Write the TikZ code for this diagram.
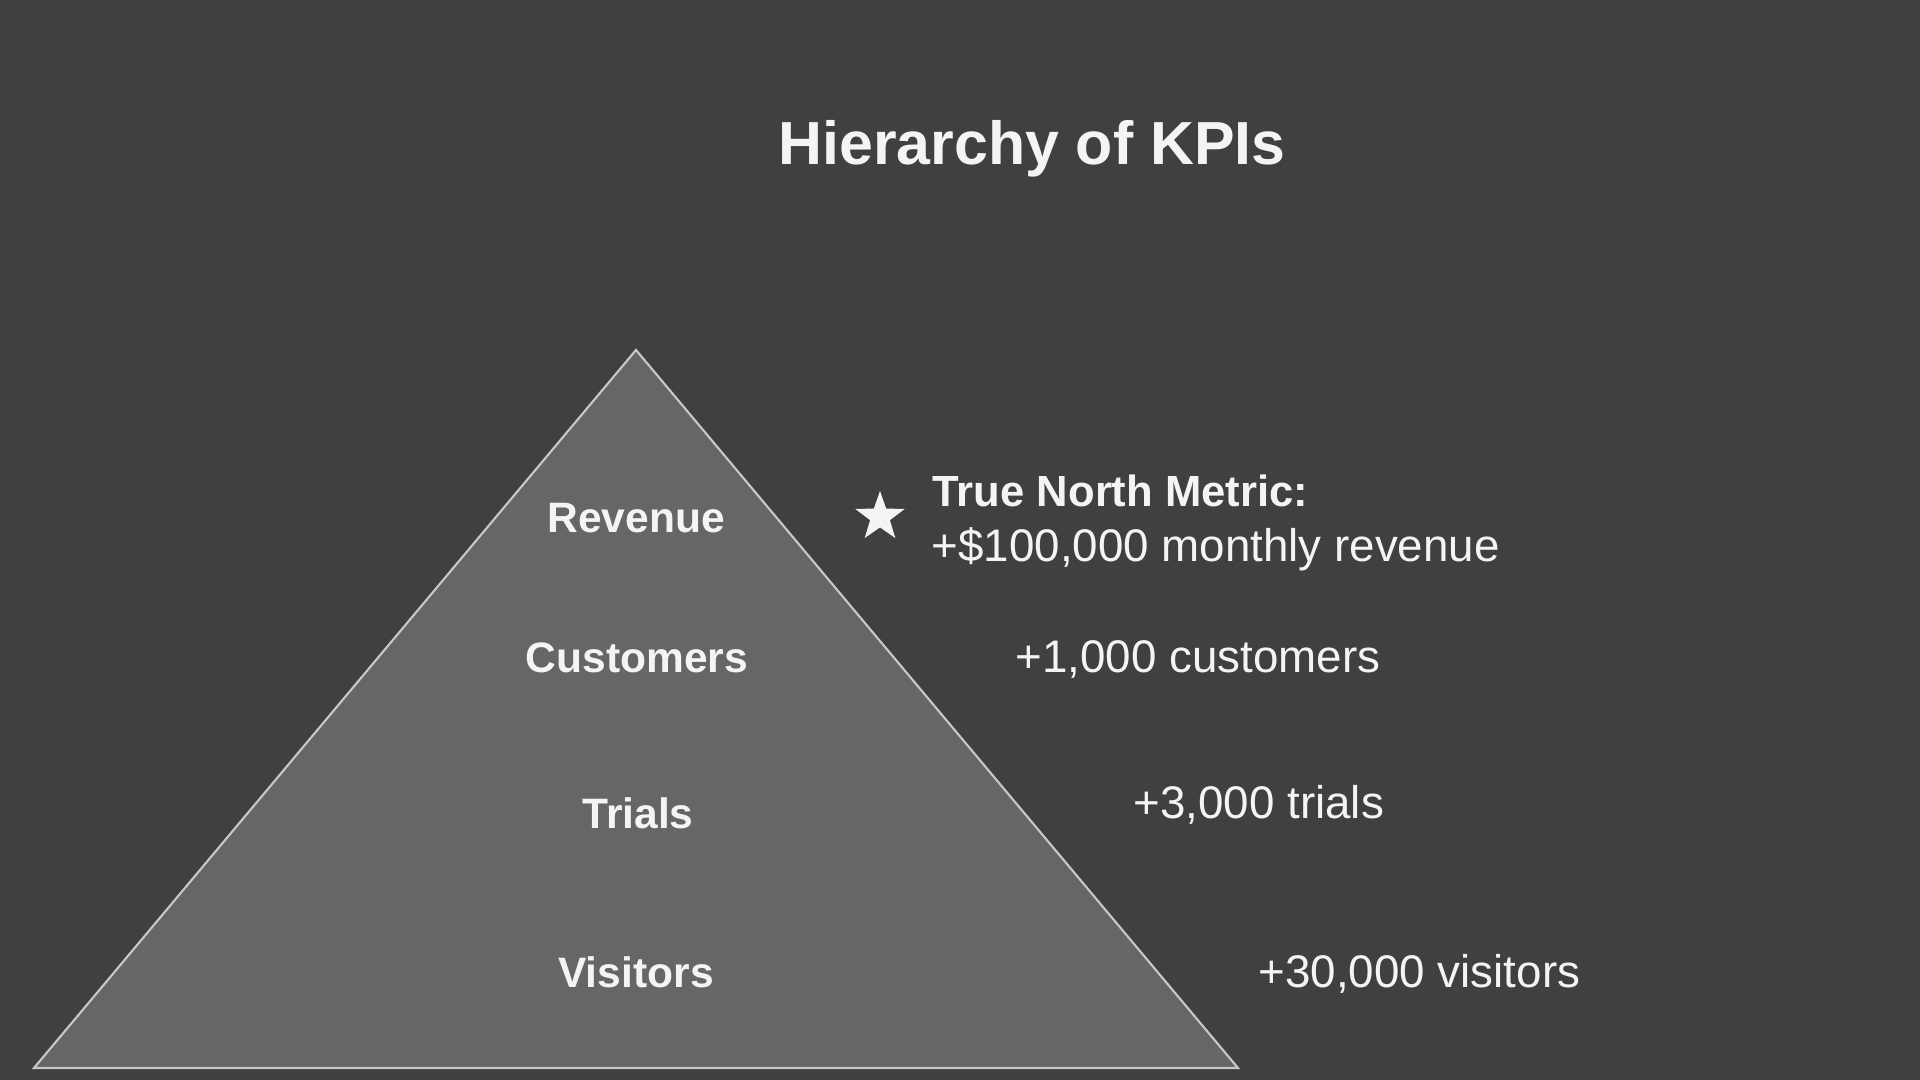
\documentclass[tikz,border=0pt]{standalone}
\usepackage{fontspec}
\setmainfont{Liberation Sans}
\usetikzlibrary{shapes.geometric}
\definecolor{bg}{HTML}{404040}
\definecolor{pyr}{HTML}{666666}
\definecolor{edge}{HTML}{C8C8C8}
\definecolor{ink}{HTML}{F4F4F4}
\tikzstyle{tier}=[text=ink, font=\fontsize{12.1}{14}\selectfont\bfseries, anchor=base, inner sep=0pt]
\tikzstyle{titletext}=[tier, font=\fontsize{17.3}{20}\selectfont\bfseries]
\tikzstyle{target}=[text=ink, font=\fontsize{13}{15}\selectfont, anchor=base west, inner sep=0pt]
\tikzstyle{btarget}=[target, font=\fontsize{12.4}{15}\selectfont\bfseries]
\tikzstyle{northstar}=[star, star points=5, star point ratio=2.5, fill=ink, minimum size=0.52cm, inner sep=0pt]

\begin{document}
\begin{tikzpicture}[x=0.01cm, y=-0.01cm]
        \fill[bg] (0,0) rectangle (1920,1080);
        \useasboundingbox (0,0) rectangle (1920,1080);
        \node[titletext] (title) at (1032,165) {Hierarchy of KPIs};
        \filldraw[fill=pyr, draw=edge, line width=0.6pt] (636,350) -- (1238,1068) -- (34,1068) -- cycle;
        \node[tier] (revenue)   at (636,533) {Revenue};
        \node[tier] (customers) at (637,673) {Customers};
        \node[tier] (trials)    at (638,829) {Trials};
        \node[tier] (visitors)  at (636,988) {Visitors};
        \node[northstar] (north) at (880,517) {};
        \node[btarget] (northname) at (932,507) {True North Metric:};
        \node[target]  (northgoal) at (931,562) {+\$100,000 monthly revenue};
        \node[target]  (custgoal)  at (1015,673) {+1,000 customers};
        \node[target]  (trialgoal) at (1133,819) {+3,000 trials};
        \node[target]  (visitgoal) at (1258,988) {+30,000 visitors};
    \end{tikzpicture}
\end{document}
